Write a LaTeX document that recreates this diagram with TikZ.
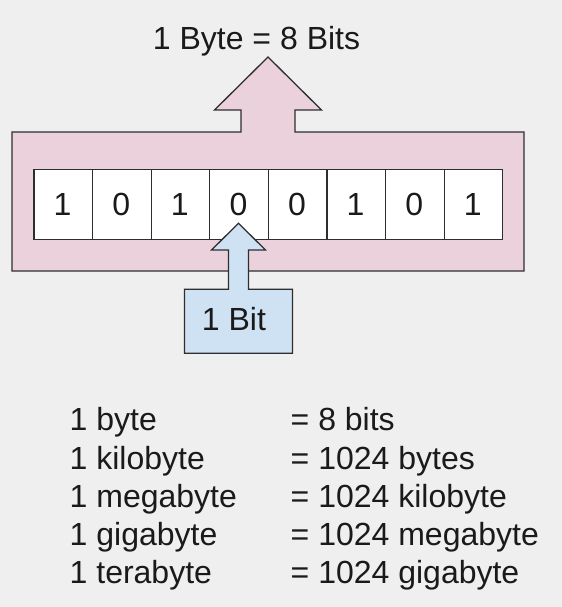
\documentclass[tikz,border=0pt]{standalone}
\usepackage{fontspec}
\setmainfont{Liberation Sans}
\definecolor{bg}{HTML}{EFEFEF}
\definecolor{pinkfill}{HTML}{EAD1DC}
\definecolor{bluefill}{HTML}{CFE2F3}
\definecolor{edge}{HTML}{2E2E2E}
\definecolor{ink}{HTML}{1A1A1A}
\begin{document}
\begin{tikzpicture}[x=1bp,y=-1bp,
  shapeline/.style={draw=edge,line width=1.3bp,line join=miter},
  txt/.style={inner sep=0pt,text=ink,font=\fontsize{32bp}{38bp}\selectfont},
  bitcell/.style={shapeline,fill=white,minimum width=58.6bp,minimum height=70bp,inner sep=0pt,anchor=north west}
]
\useasboundingbox (0,0) rectangle (562,607);
\fill[bg] (0,0) rectangle (562,607);
% pink byte shape with upward arrow
\draw[shapeline,fill=pinkfill]
  (12,132) -- (241,132) -- (241,110) -- (214.5,110) -- (268,57) -- (321.5,110)
  -- (295,110) -- (295,132) -- (524,132) -- (524,271) -- (12,271) -- cycle;
\node[txt,anchor=base] (byte) at (256.5,49.3) {1 Byte = 8 Bits};
% bit cells
\foreach \b [count=\i from 0] in {1,0,1,0,0,1,0,1}{
  \node[bitcell] (c\i) at ({33.3+58.6*\i},169) {};
  \node[txt,anchor=base] (d\i) at ({33.3+58.6*(\i+0.5)},215) {\b};
}
% blue bit shape with upward arrow
\draw[shapeline,fill=bluefill]
  (184.5,289.3) -- (228.5,289.3) -- (228.5,250) -- (211.5,250) -- (238.5,223.3)
  -- (265.5,250) -- (248.5,250) -- (248.5,289.3) -- (292.5,289.3)
  -- (292.5,353.3) -- (184.5,353.3) -- cycle;
\node[txt,anchor=base] (bit) at (234,330) {1 Bit};
% table
\foreach \l/\r [count=\k from 0] in {1 byte/= 8 bits,1 kilobyte/= 1024 bytes,1 megabyte/= 1024 kilobyte,1 gigabyte/= 1024 megabyte,1 terabyte/= 1024 gigabyte}{
  \node[txt,anchor=base west] (l\k) at (69.5,{430.7+38.3*\k}) {\l};
  \node[txt,anchor=base west] (r\k) at (290.5,{430.7+38.3*\k}) {\r};
}
\end{tikzpicture}
\end{document}
